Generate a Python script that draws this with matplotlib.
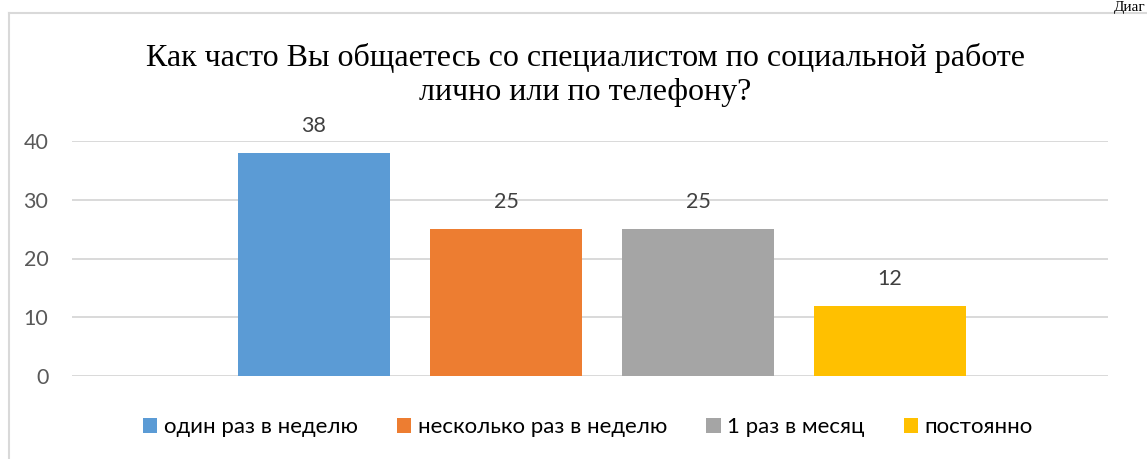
import matplotlib
matplotlib.use('Agg')
import matplotlib.pyplot as plt
from matplotlib.patches import Patch
from matplotlib.lines import Line2D

# --- Data ---

title = 'Как часто Вы общаетесь со специалистом по социальной работе\nлично или по телефону?'
categories = ['один раз в неделю', 'несколько раз в неделю', '1 раз в месяц', 'постоянно']
values = [38, 25, 25, 12]
colors = ['#5B9BD5', '#ED7D31', '#A5A5A5', '#FFC000']
yticks = [0, 10, 20, 30, 40]

W, H = 1147, 459
fig = plt.figure(figsize=(W / 100, H / 100), dpi=100)

# plot area in pixels: x 72..1108, y 141..376 (from top)
ax = fig.add_axes([72 / W, (H - 376) / H, (1108 - 72) / W, (376 - 141) / H])

x = list(range(len(values)))
ax.bar(x, values, width=152 / 192, color=colors, zorder=3)
ax.set_xlim((72 - 314) / 192, (1108 - 314) / 192)
ax.set_ylim(0, 40)

for xi, v in zip(x, values):
    ax.annotate(str(v), (xi, v), xytext=(0, 12), textcoords='offset points',
                ha='center', va='bottom', fontsize=15.5, family='Lato',
                color='#404040')

ax.set_yticks(yticks)
ax.set_xticks([])
ax.tick_params(axis='y', length=0, pad=17, labelsize=15.5, labelcolor='#595959')
for lbl in ax.get_yticklabels():
    lbl.set_family('Lato')
ax.grid(axis='y', color='#D9D9D9', linewidth=1.4, zorder=0)
for s in ax.spines.values():
    s.set_visible(False)

# --- Title ---
fig.text(585 / W, 1 - 75 / H, title, ha='center', va='center',
         family='Liberation Serif', fontsize=23, linespacing=1.25)

# --- Legend ---
handles = [Patch(facecolor=c, edgecolor='none') for c in colors]
fig.legend(handles, categories, loc='center', bbox_to_anchor=(588 / W, 32 / H),
           ncol=4, frameon=False, handlelength=0.65, handleheight=0.65,
           handletextpad=0.3, columnspacing=1.75,
           prop={'family': 'Lato', 'size': 16})

# --- Chart border (left and top visible) ---
fig.add_artist(Line2D([8.5 / W, 8.5 / W], [0, 1 - 13 / H], color='#D9D9D9', lw=1.5))
fig.add_artist(Line2D([8.5 / W, 1], [1 - 13 / H, 1 - 13 / H], color='#D9D9D9', lw=1.5))

# cropped caption at the top right
fig.text(1145 / W, 1 - 11 / H, 'Диаг', ha='right', va='baseline',
         family='Liberation Serif', fontsize=11)

fig.savefig('out.png', dpi=100)
